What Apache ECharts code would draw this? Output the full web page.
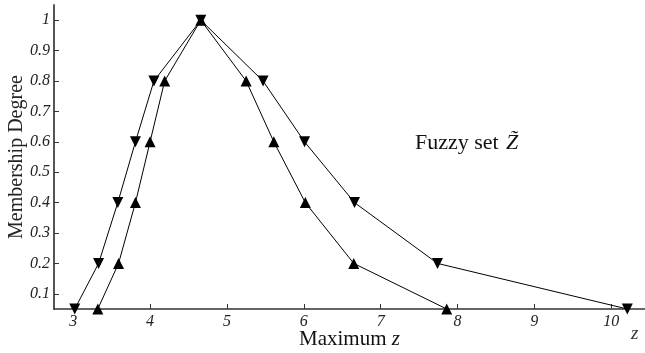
<!DOCTYPE html>
<html>
<head>
<meta charset="utf-8">
<script src="https://cdn.jsdelivr.net/npm/echarts@6/dist/echarts.min.js"></script>
<style>html,body{margin:0;padding:0;background:#fff}#c{width:645px;height:353px}</style>
</head>
<body>
<div id="c"></div>
<script>
// Data
var downX = [3.02, 3.33, 3.58, 3.81, 4.05, 4.66, 5.47, 6.01, 6.66, 7.74, 10.21];
var downY = [0.05, 0.2, 0.4, 0.6, 0.8, 1.0, 0.8, 0.6, 0.4, 0.2, 0.05];
var upX = [3.32, 3.59, 3.81, 4.0, 4.19, 4.66, 5.25, 5.61, 6.02, 6.65, 7.86];
var upY = [0.05, 0.2, 0.4, 0.6, 0.8, 1.0, 0.8, 0.6, 0.4, 0.2, 0.05];
var xTicks = [3, 4, 5, 6, 7, 8, 9, 10];
var yTicks = [0.1, 0.2, 0.3, 0.4, 0.5, 0.6, 0.7, 0.8, 0.9, 1];

function pairs(xs, ys) { return xs.map(function (x, i) { return [x, ys[i]]; }); }

var serif = '"Liberation Serif", "DejaVu Serif", serif';
var chart = echarts.init(document.getElementById('c'));
chart.setOption({
  animation: false,
  grid: { left: 54, right: 0, top: 5, bottom: 44, containLabel: false, outerBoundsMode: 'none' },
  xAxis: {
    type: 'value', min: 2.75, max: 10.44,
    name: 'Maximum {i|z}', nameLocation: 'middle', nameGap: 20, nameMoveOverlap: false,
    nameTextStyle: { fontFamily: serif, fontSize: 21, color: '#111',
      rich: { i: { fontFamily: serif, fontStyle: 'italic', fontSize: 21, color: '#111' } } },
    axisLine: { show: true, lineStyle: { color: '#333', width: 1.5 } },
    axisTick: { show: true, inside: true, length: 5, customValues: xTicks, lineStyle: { color: '#333' } },
    axisLabel: { customValues: xTicks, fontFamily: serif, fontStyle: 'italic', fontSize: 16, color: '#222', margin: 5 },
    splitLine: { show: false }
  },
  yAxis: {
    type: 'value', min: 0.05, max: 1.05,
    name: 'Membership Degree', nameLocation: 'middle', nameGap: 27, nameMoveOverlap: false,
    nameTextStyle: { fontFamily: serif, fontSize: 20, color: '#222' },
    axisLine: { show: true, lineStyle: { color: '#555', width: 2 } },
    axisTick: { show: true, inside: true, length: 5, customValues: yTicks, lineStyle: { color: '#333' } },
    axisLabel: { customValues: yTicks, fontFamily: serif, fontStyle: 'italic', fontSize: 16, color: '#222', margin: 4,
      formatter: function (v) { return Math.abs(v - 1) < 1e-9 ? '1' : v.toFixed(1); } },
    splitLine: { show: false }
  },
  series: [
    { type: 'line', data: pairs(downX, downY), symbol: 'triangle', symbolRotate: 180, symbolSize: 11,
      lineStyle: { color: '#000', width: 1 }, itemStyle: { color: '#000' } },
    { type: 'line', data: pairs(upX, upY), symbol: 'triangle', symbolSize: 11,
      lineStyle: { color: '#000', width: 1 }, itemStyle: { color: '#000' } }
  ],
  graphic: [
    { type: 'text', left: 415, top: 132, style: { text: 'Fuzzy set', font: '22px ' + serif, fill: '#111' } },
    { type: 'text', left: 506, top: 132, style: { text: 'Z\u0303', font: 'italic 22px ' + serif, fill: '#111' } },
    { type: 'text', left: 631, top: 324, style: { text: 'z', font: 'italic 19px ' + serif, fill: '#333' } }
  ]
});
</script>
</body>
</html>
